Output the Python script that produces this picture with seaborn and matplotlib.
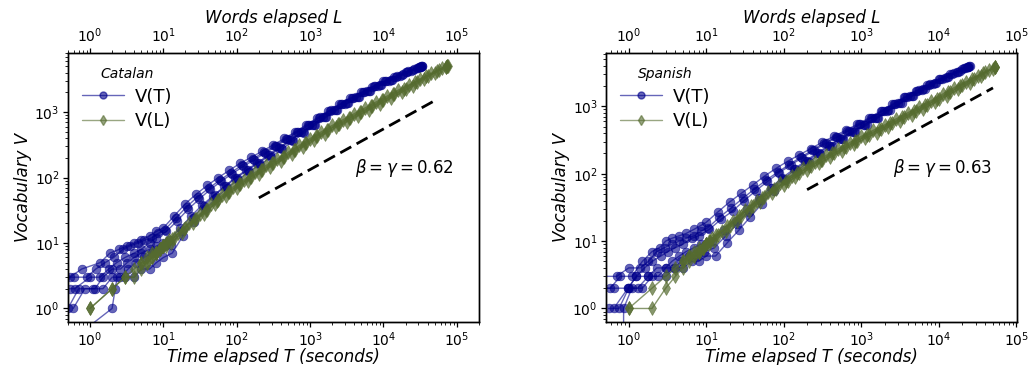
import matplotlib
matplotlib.use("Agg")
import matplotlib.pyplot as plt
import numpy as np
import pandas as pd
import seaborn as sns
from matplotlib.lines import Line2D

sns.set_theme(style="ticks")
plt.rcParams['font.family'] = ['DejaVu Sans']
plt.rcParams['mathtext.fontset'] = 'dejavusans'
plt.rcParams['text.color'] = 'black'
plt.rcParams['axes.labelcolor'] = 'black'
plt.rcParams['xtick.color'] = 'black'
plt.rcParams['ytick.color'] = 'black'

BLUE = '#00008B'
GREEN = '#556B2F'

# ---------------- Catalan: V(T) runs ----------------
cat_T_a = [0.35, 0.53, 0.77, 1.37, 1.87, 2.5, 3.2, 4, 5, 6.5, 8, 10, 14.1, 20, 28.2, 39.8, 56.2, 79.4, 112, 158, 224, 316, 447, 631, 891, 1259, 1778, 2512, 3548, 5012, 7079, 10000, 14125, 19953, 28184, 33000]
cat_V_a = [3, 3, 4, 5, 7, 8, 9, 10, 11, 13, 15, 17, 26, 40, 56, 76, 100, 129, 166, 204, 254, 316, 396, 501, 642, 822, 1047, 1318, 1650, 2018, 2455, 2951, 3467, 4074, 4732, 5012]
cat_T_b = [0.4, 0.53, 0.62, 1.0, 1.37, 1.8, 2.3, 3, 4, 5, 6.5, 8, 11, 15.5, 21.9, 30.9, 43.7, 61.7, 87.1, 123, 174, 245, 347, 490, 692, 977, 1380, 1950, 2754, 3890, 5495, 7762, 10965, 15488, 21878, 30903, 32000]
cat_V_b = [2, 2, 2, 3, 3, 4, 5, 6, 7, 8, 10, 12, 15, 22, 33, 47, 66, 88, 115, 148, 188, 237, 304, 391, 501, 642, 828, 1059, 1340, 1663, 2051, 2512, 2985, 3540, 4188, 4853, 4980]
cat_T_c = [0.59, 0.85, 1.17, 1.5, 2, 2.6, 3.2, 4, 5, 6.5, 8, 10, 12, 17, 24, 33.9, 47.9, 67.6, 95.5, 135, 190, 269, 380, 537, 759, 1072, 1514, 2138, 3020, 4266, 6026, 8511, 12023, 16982, 23988, 31623]
cat_V_c = [1, 2, 2, 3, 4, 4, 5, 6, 7, 8, 9, 10, 11, 17, 26, 38, 53, 73, 100, 130, 168, 218, 286, 375, 490, 640, 834, 1067, 1349, 1687, 2080, 2547, 3034, 3614, 4315, 4864]
cat_T_d = [0.8, 2.0, 2.2, 2.35, 3, 4, 5, 6.5, 8, 10, 13.2, 18.6, 26.3, 37.2, 52.5, 74.1, 105, 148, 209, 295, 417, 589, 832, 1175, 1660, 2344, 3311, 4677, 6607, 9333, 13183, 18621, 26303, 33884]
cat_V_d = [0.45, 1, 2, 3, 3, 3, 4, 4, 5, 6, 7, 13, 21, 33, 49, 69, 93, 123, 158, 206, 274, 363, 481, 635, 836, 1081, 1374, 1722, 2138, 2612, 3133, 3758, 4487, 4977]
cat_T_e = [0.45, 0.6, 0.9, 1.2, 1.6, 2.1, 2.8, 3.5, 4.5, 5.5, 7, 8.5, 10.5, 14.8, 20.9, 29.5, 41.7, 58.9, 83.2, 117.5, 166, 234, 331, 468, 661, 933, 1318, 1862, 2630, 3715, 5248, 7413, 10471, 14791, 20893, 29512, 32359]
cat_V_e = [3, 3, 3, 4, 5, 6, 8, 9, 10, 11, 12, 14, 16, 24, 36, 51, 69, 91, 119, 154, 193, 243, 308, 393, 500, 636, 820, 1050, 1327, 1654, 2032, 2489, 2965, 3491, 4121, 4786, 4898]
cat_T_f = [0.5, 0.7, 1.1, 1.5, 2, 2.6, 3.3, 4.2, 5.5, 7, 9, 10.5, 12.6, 17.8, 25.1, 35.5, 50.1, 70.8, 100, 141, 200, 282, 398, 562, 794, 1122, 1585, 2239, 3162, 4467, 6310, 8913, 12589, 17783, 25119, 31623]
cat_V_f = [1, 2, 2, 2, 3, 3, 4, 5, 6, 7, 8, 9, 9.3, 15, 24.5, 37, 54, 74, 100, 130, 168, 218, 285, 374, 490, 642, 838, 1074, 1361, 1706, 2113, 2588, 3090, 3698, 4426, 4875]

# ---------------- Catalan: V(L) runs ----------------
cat_L_1 = [1, 2, 3, 4, 5, 6, 7, 8, 9, 10, 14.1, 20, 28.2, 39.8, 56.2, 79.4, 112, 158, 224, 316, 447, 631, 891, 1259, 1778, 2512, 3548, 5012, 7079, 10000, 14125, 19953, 28184, 39811, 56234, 75000]
cat_W_1 = [1, 2, 3, 4, 5, 5, 6, 7, 8, 9, 12, 17, 23, 32, 45, 60, 79, 102, 130, 164, 206, 263, 335, 427, 534, 661, 813, 1000, 1230, 1514, 1862, 2291, 2868, 3548, 4341, 5105]
cat_L_2 = [5, 6, 7, 8, 9, 10, 11.2, 15.8, 22.4, 31.6, 44.7, 63.1, 89.1, 126, 178, 251, 355, 501, 708, 1000, 1413, 1995, 2818, 3981, 5623, 7943, 11220, 15849, 22387, 31623, 44668, 63096, 74000]
cat_W_2 = [5, 6, 7, 7, 8, 9, 10, 14, 20, 28, 39, 54, 72, 93, 120, 153, 192, 243, 309, 394, 498, 624, 767, 944, 1161, 1429, 1758, 2163, 2616, 3199, 3890, 4677, 5070]
cat_L_3 = [1, 2, 3, 4, 5, 6, 7, 8, 9, 10, 11, 12.6, 17.8, 25.1, 35.5, 50.1, 70.8, 100, 141, 200, 282, 398, 562, 794, 1122, 1585, 2239, 3162, 4467, 6310, 8913, 12589, 17783, 25119, 35481, 50119, 70795, 72000]
cat_W_3 = [1, 2, 3, 3, 4, 5, 6, 7, 8, 9, 9, 10, 14, 20, 28, 39, 52, 68, 89, 114, 144, 180, 229, 292, 372, 468, 582, 716, 881, 1084, 1334, 1641, 2018, 2512, 3199, 3981, 4842, 4955]
cat_L_4 = [8, 9, 10, 11, 12, 13.3, 18.8, 26.6, 37.6, 53.1, 75, 106, 150, 211, 299, 422, 596, 841, 1189, 1679, 2371, 3350, 4732, 6683, 9441, 13335, 18836, 26607, 37584, 53088, 74131]
cat_W_4 = [7, 8, 9, 10, 11, 11.7, 16.6, 22.9, 31.8, 44.4, 59.6, 78.3, 101, 130, 164, 205, 262, 333, 424, 532, 661, 813, 1000, 1230, 1514, 1862, 2291, 2858, 3508, 4256, 5070]

# ---------------- Spanish: V(T) runs ----------------
spa_T_a = [0.4, 0.58, 0.78, 1.1, 1.5, 2.0, 2.5, 3.0, 3.6, 4.5, 5.5, 7, 8.5, 10, 14.1, 20, 28.2, 39.8, 56.2, 79.4, 112, 158, 224, 316, 447, 631, 891, 1259, 1778, 2512, 3548, 5012, 7079, 10000, 14125, 19953, 24547]
spa_V_a = [2, 2, 3, 3, 5, 7, 8, 10, 11, 12, 13, 15, 17, 19, 27, 38, 51, 68, 92, 120, 153, 190, 236, 295, 361, 442, 544, 673, 851, 1076, 1365, 1706, 2080, 2541, 3031, 3606, 3936]
spa_T_b = [0.45, 0.64, 0.98, 1.26, 1.6, 2.0, 2.6, 3.2, 4, 5, 6.5, 8, 11, 15.5, 21.9, 30.9, 43.7, 61.7, 87.1, 123, 174, 245, 347, 490, 692, 977, 1380, 1950, 2754, 3890, 5495, 7762, 10965, 15488, 21878, 23988]
spa_V_b = [2, 2, 2, 3, 4, 5, 6, 7, 8, 9, 11, 12, 15, 21, 28, 40, 56, 77, 103, 135, 173, 222, 282, 350, 436, 542, 679, 863, 1094, 1390, 1726, 2118, 2582, 3108, 3724, 3846]
spa_T_c = [0.64, 0.98, 1.26, 1.8, 2.3, 3, 3.6, 4.5, 5.5, 7, 8.5, 10, 12, 17, 24, 33.9, 47.9, 67.6, 95.5, 135, 190, 269, 380, 537, 759, 1072, 1514, 2138, 3020, 4266, 6026, 8511, 12023, 16982, 23988]
spa_V_c = [1, 2, 3, 3, 4, 4, 5, 6, 7, 8, 9, 9, 10, 14.5, 20, 29.5, 43, 62, 87, 117, 154, 203, 262, 332, 420, 530, 674, 865, 1107, 1408, 1750, 2163, 2649, 3218, 3828]
spa_T_d = [0.5, 0.86, 1.1, 1.5, 2, 3, 4, 5, 6.5, 8, 10, 13.2, 18.6, 26.3, 37.2, 52.5, 74.1, 105, 148, 209, 295, 417, 589, 832, 1175, 1660, 2344, 3311, 4677, 6607, 9333, 13183, 18621, 25119]
spa_V_d = [0, 1, 2, 2, 3, 3, 4, 4, 5, 5, 6, 6, 9.4, 14.5, 23, 36, 55, 80, 110, 150, 198, 256, 326, 414, 528, 679, 877, 1132, 1440, 1791, 2223, 2729, 3339, 3936]
spa_T_e = [0.45, 0.7, 1.0, 1.4, 1.8, 2.3, 2.9, 3.6, 4.5, 5.5, 7, 8.5, 10.5, 14.8, 20.9, 29.5, 41.7, 58.9, 83.2, 117.5, 166, 234, 331, 468, 661, 933, 1318, 1862, 2630, 3715, 5248, 7413, 10471, 14791, 20893, 23988]
spa_V_e = [3, 3, 4, 4, 5, 7, 8, 9, 10, 11, 12, 14, 15.8, 22.5, 31, 43, 59, 80, 105, 137, 176, 224, 285, 352, 435, 539, 671, 849, 1076, 1365, 1702, 2084, 2547, 3051, 3656, 3846]
spa_T_f = [0.55, 0.75, 1.0, 1.3, 1.8, 2.4, 3, 3.8, 4.8, 6, 7.5, 9.5, 12.6, 17.8, 25.1, 35.5, 50.1, 70.8, 100, 141, 200, 282, 398, 562, 794, 1122, 1585, 2239, 3162, 4467, 6310, 8913, 12589, 17783, 23442]
spa_V_f = [1, 1, 2, 2, 3, 3, 4, 4, 5, 6, 6, 7, 7.9, 11.9, 18.2, 27.5, 41, 61, 85, 116, 153, 203, 261, 332, 421, 534, 682, 877, 1125, 1434, 1786, 2213, 2704, 3293, 3784]

# ---------------- Spanish: V(L) runs ----------------
spa_L_1 = [1, 2, 3, 4, 5, 6, 7, 8, 9, 10, 14.1, 20, 28.2, 39.8, 56.2, 79.4, 112, 158, 224, 316, 447, 631, 891, 1259, 1778, 2512, 3548, 5012, 7079, 10000, 14125, 19953, 28184, 39811, 53700]
spa_W_1 = [1, 2, 3, 4, 5, 6, 6, 7, 8, 9, 12.5, 17, 24, 33.5, 45, 60, 79, 103.5, 130, 162, 201, 248, 309, 380, 460, 562, 692, 851, 1047, 1303, 1631, 2042, 2556, 3199, 3846]
spa_L_2 = [5, 6, 7, 8, 9, 10, 11.2, 15.8, 22.4, 31.6, 44.7, 63.1, 89.1, 126, 178, 251, 355, 501, 708, 1000, 1413, 1995, 2818, 3981, 5623, 7943, 11220, 15849, 22387, 31623, 44668, 52481]
spa_W_2 = [5, 6, 7, 8, 8, 9, 10, 14, 20, 28.8, 40, 54, 72, 93, 121, 151, 188, 234, 290, 359, 439, 531, 653, 804, 989, 1216, 1522, 1905, 2331, 2851, 3491, 3784]
spa_L_3 = [1, 2, 3, 4, 5, 6, 7, 8, 9, 10, 11, 12.6, 17.8, 25.1, 35.5, 50.1, 70.8, 100, 141, 200, 282, 398, 562, 794, 1122, 1585, 2239, 3162, 4467, 6310, 8913, 12589, 17783, 25119, 35481, 50119]
spa_W_3 = [1, 1, 2, 3, 4, 5, 6, 7, 8, 9, 9, 10, 14, 20, 28, 38.5, 51.6, 68.4, 89, 113.5, 142, 176, 219, 272, 335, 407, 496, 610, 750, 923, 1142, 1429, 1788, 2239, 2867, 3631]
spa_L_4 = [8, 9, 10, 11, 12, 13.3, 18.8, 26.6, 37.6, 53.1, 75, 106, 150, 211, 299, 422, 596, 841, 1189, 1679, 2371, 3350, 4732, 6683, 9441, 13335, 18836, 26607, 37584, 52481]
spa_W_4 = [7, 8, 9, 10, 11, 12.3, 17, 23.9, 32.8, 44.3, 59.4, 78.3, 102, 129, 162, 200, 248, 309, 380, 461, 562, 692, 851, 1047, 1300, 1626, 2037, 2547, 3141, 3784]

# ---------------- guide lines ----------------
guide_x = [200, 50000]
cat_beta, cat_amp = 0.62, 1.83
spa_beta, spa_amp = 0.63, 2.06

languages = ['Catalan', 'Spanish']
series_labels = ['V(T)', 'V(L)']


def runs_frame(runs):
    frames = []
    for i, (x, v) in enumerate(runs):
        frames.append(pd.DataFrame({'x': x, 'V': v, 'run': i}))
    return pd.concat(frames, ignore_index=True)


panels = [
    dict(lang='Catalan', rect=[0.0661, 0.1178, 0.3998, 0.737],
         T=runs_frame([(cat_T_a, cat_V_a), (cat_T_b, cat_V_b), (cat_T_c, cat_V_c),
                       (cat_T_d, cat_V_d), (cat_T_e, cat_V_e), (cat_T_f, cat_V_f)]),
         L=runs_frame([(cat_L_1, cat_W_1), (cat_L_2, cat_W_2), (cat_L_3, cat_W_3), (cat_L_4, cat_W_4)]),
         beta=cat_beta, amp=cat_amp, xlim=(0.5, 2.0e5), ylim=(0.62, 8000)),
    dict(lang='Spanish', rect=[0.5895, 0.1178, 0.3998, 0.737],
         T=runs_frame([(spa_T_a, spa_V_a), (spa_T_b, spa_V_b), (spa_T_c, spa_V_c),
                       (spa_T_d, spa_V_d), (spa_T_e, spa_V_e), (spa_T_f, spa_V_f)]),
         L=runs_frame([(spa_L_1, spa_W_1), (spa_L_2, spa_W_2), (spa_L_3, spa_W_3), (spa_L_4, spa_W_4)]),
         beta=spa_beta, amp=spa_amp, xlim=(0.51, 1.02e5), ylim=(0.63, 6200)),
]

fig = plt.figure(figsize=(10.28, 3.65), dpi=100)

for p in panels:
    ax = fig.add_axes(p['rect'])
    ax.set_xscale('log')
    ax.set_yscale('log')
    sns.lineplot(data=p['T'], x='x', y='V', units='run', estimator=None, sort=False,
                 color=BLUE, marker='o', markersize=6.3, markeredgecolor=BLUE,
                 markeredgewidth=0.5, alpha=0.6, lw=1, ax=ax, legend=False)
    sns.lineplot(data=p['L'], x='x', y='V', units='run', estimator=None, sort=False,
                 color=GREEN, marker='d', markersize=7.5, markeredgecolor=GREEN,
                 markeredgewidth=0.5, alpha=0.7, lw=1, ax=ax, legend=False)
    gx = np.array(guide_x, dtype=float)
    gy = p['amp'] * gx ** p['beta']
    sns.lineplot(x=gx, y=gy, color='black', lw=2, linestyle=(0, (4.5, 2.2)), ax=ax)

    ax.set_xlim(*p['xlim'])
    ax.set_ylim(*p['ylim'])
    ax.set_xlabel('Time elapsed T (seconds)', fontsize=12, fontstyle='italic', labelpad=-1)
    ax.set_ylabel('Vocabulary V', fontsize=12, fontstyle='italic', labelpad=2)
    ax.tick_params(axis='both', which='major', labelsize=10, length=3.5, width=0.9,
                   color='black', labelcolor='black', pad=2.5)
    ax.tick_params(axis='both', which='minor', length=2, width=0.6, color='black')
    for s in ax.spines.values():
        s.set_color('black')
        s.set_linewidth(1.0)

    ax.text(0.698, 0.572, r'$\beta = \gamma = %.2f$' % p['beta'], transform=ax.transAxes,
            fontsize=12, va='center', ha='left', color='black')

    handles = [Line2D([0], [0], color=BLUE, marker='o', markersize=5, lw=1, alpha=0.6,
                      markeredgecolor=BLUE, label=series_labels[0]),
               Line2D([0], [0], color=GREEN, marker='d', markersize=5.5, lw=1, alpha=0.6,
                      markeredgecolor=GREEN, label=series_labels[1])]
    ax.legend(handles=handles, title=p['lang'], loc='upper left', frameon=False,
              fontsize=13, title_fontproperties={'style': 'italic', 'size': 10},
              handlelength=2.3, borderaxespad=0.4, labelspacing=0.35, handletextpad=0.6)

    ax2 = ax.twiny()
    ax2.set_xscale('log')
    ax2.set_xlim(*p['xlim'])
    ax2.set_xlabel('Words elapsed L', fontsize=12, fontstyle='italic', labelpad=2)
    ax2.tick_params(axis='x', which='major', labelsize=10, length=3.5, width=0.9,
                    color='black', labelcolor='black', pad=2.5)
    ax2.tick_params(axis='x', which='minor', length=2, width=0.6, color='black')
    for s in ax2.spines.values():
        s.set_color('black')
        s.set_linewidth(1.0)

fig.savefig('out.png', dpi=100)
